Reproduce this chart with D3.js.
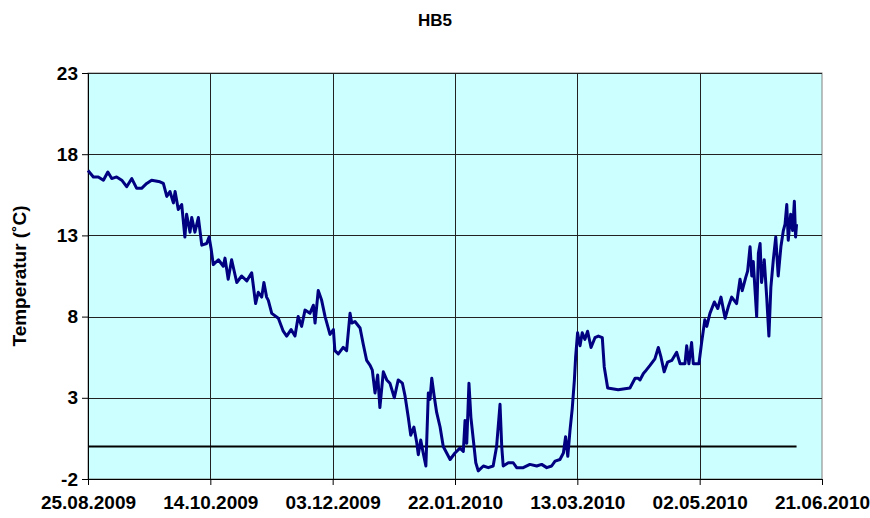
<!DOCTYPE html>
<html>
<head>
<meta charset="utf-8">
<script src="https://cdn.jsdelivr.net/npm/d3@7"></script>
<style>
  body { margin: 0; background: #fff; }
  svg text { font-family: "Liberation Sans", Arial, sans-serif; font-weight: bold; fill: #000; }
</style>
</head>
<body>
<div class="chart"></div>
<script>
// series HB5, days counted from 25.08.2009
var days = [0, 2.2, 4.2, 6.3, 8.1, 9.7, 11.7, 13.8, 15.8, 17.9, 19.9, 21.9, 24.0, 26.0, 29.4, 30.8,
  32.2, 33.5, 34.9, 35.6, 36.9, 38.3, 39.6, 40.3, 41.7, 42.4, 43.7, 45.1, 46.5, 48.5, 49.5, 50.3,
  51.2, 53.3, 55.3, 56.0, 57.3, 58.7, 60.8, 62.8, 64.9, 66.9, 68.5, 69.6, 71.0, 71.9, 73.0,
  73.7, 75.1, 77.8, 79.8, 81.2, 83.0, 84.6, 85.9, 87.3, 88.7, 90.7, 92.1, 92.8, 94.1, 95.5, 96.9,
  98.9, 100.3, 100.9, 102.3, 104.3, 105.7, 107.1, 107.8, 109.1, 111.2, 112.5, 113.9, 115.3, 116.2,
  117.3, 118.4, 119.3, 120.7, 122.1, 123.4, 125.2, 126.8, 128.5, 129.6, 130.9, 131.9, 133.2, 134.3,
  135.0, 136.0, 137.0, 138.1, 139.1, 139.8, 140.5, 141.5, 142.5, 143.9, 145.2, 146.6, 148.0,
  150.0, 152.0, 153.4, 154.1, 154.8, 155.7, 156.5, 157.5, 158.5, 159.5, 161.6, 163.6, 165.6,
  167.0, 168.4, 169.1, 169.7, 171.8, 173.8, 175.2, 177.9, 180.6, 183.4, 185.4, 187.5, 189.5,
  190.9, 192.9, 194.3, 195.2, 196.1, 197.0, 197.9, 198.8, 199.3, 200.1, 201.1, 202.0, 203.1,
  204.2, 205.6, 207.2, 208.6, 210.2, 211.0, 212.4, 216.7, 221.5,
  223.6, 224.9, 225.6, 227.0, 227.6, 229.7, 231.7, 233.1, 234.2, 235.5, 236.9, 238.6, 240.6,
  242.0, 244.0, 244.7, 245.6, 246.7, 247.4, 249.7, 250.8, 252.1, 252.9, 254.2, 256.0, 257.4,
  258.7, 260.4, 261.7, 263.1, 265.1, 266.5, 267.4, 268.8, 269.6, 270.6, 271.3, 271.9, 273.3,
  274.0, 274.7, 275.3, 276.4, 277.4, 278.3, 279.1, 280.1, 281.1, 282.1, 283.2, 284.2, 284.9,
  285.6, 286.2, 287.2, 288.0, 288.7, 289.2, 289.6];

var temps = [17.0, 16.6, 16.6, 16.4, 16.9, 16.5, 16.6, 16.4, 16.0, 16.5, 15.9, 15.9, 16.2, 16.4, 16.3, 16.2,
  15.4, 15.7, 15.0, 15.7, 14.6, 14.9, 12.9, 14.3, 13.2, 14.1, 13.2, 14.1, 12.4, 12.5, 12.9, 12.2,
  11.2, 11.5, 11.1, 11.6, 10.3, 11.5, 10.1, 10.5, 10.2, 10.7, 8.8, 9.5, 9.2, 10.1, 9.2,
  9.0, 8.2, 7.9, 7.1, 6.8, 7.2, 6.8, 8.0, 7.4, 8.4, 8.2, 8.7, 7.6, 9.6, 9.0, 8.0,
  6.9, 7.2, 5.9, 5.7, 6.1, 5.9, 8.2, 7.6, 7.7, 7.3, 6.3, 5.3, 5.0, 4.7,
  3.3, 4.4, 2.4, 4.6, 4.1, 3.9, 3.0, 4.1, 3.9, 3.1, 1.8, 0.7, 1.2, 0.3,
  -0.5, 0.4, -0.4, -1.2, 3.3, 2.9, 4.2, 3.1, 2.1, 1.2, 0.0, -0.4, -0.8,
  -0.4, -0.1, -0.3, 1.6, 0.2, 3.9, 1.8, 0.4, -1.0, -1.5, -1.2, -1.3, -1.2,
  0.0, 2.6, 0.0, -1.2, -1.0, -1.0, -1.3, -1.3, -1.1, -1.2, -1.1, -1.3, -1.2,
  -0.9, -0.8, -0.4, 0.6, -0.6, 1.0, 2.3, 4.1, 5.5, 7.0, 6.2, 7.0, 6.6,
  7.1, 6.1, 6.7, 6.8, 6.7, 4.9, 3.6, 3.5, 3.6,
  4.2, 4.2, 4.1, 4.5, 4.6, 5.0, 5.4, 6.1, 5.5, 4.6, 5.2, 5.3, 5.8,
  5.1, 5.1, 6.2, 5.1, 6.4, 5.1, 5.1, 6.4, 7.8, 7.4, 8.2, 8.9, 8.5,
  9.2, 7.9, 8.6, 9.2, 8.8, 10.3, 9.6, 10.4, 10.8, 12.3, 10.5, 11.4, 8.0,
  11.9, 12.5, 10.1, 11.5, 9.2, 6.8, 9.8, 11.5, 12.9, 10.5, 12.3, 13.3, 13.7,
  14.9, 12.7, 14.3, 13.3, 15.1, 12.9, 13.7];

// reference line at 0 °C
var refDays = [0, 289.6];
var refTemps = [0, 0];

var yTicks = [-2, 3, 8, 13, 18, 23];
var tickDays = [0, 50, 100, 150, 200, 250, 300];

var title = "HB5";
var yLabel = "Temperatur (˚C)";

var margin = {top: 73, right: 48, bottom: 39, left: 88},
    width = 870 - margin.left - margin.right,
    height = 518 - margin.top - margin.bottom;

var start = Date.UTC(2009, 7, 25);
var toDate = function(d) { return new Date(start + d * 864e5); };

var svg = d3.select(".chart")
    .append("svg")
    .attr("width", width + margin.left + margin.right)
    .attr("height", height + margin.top + margin.bottom);

var g = svg.append("g")
    .attr("transform", "translate(" + margin.left + "," + margin.top + ")");

var x = d3.scaleUtc()
    .domain([toDate(0), toDate(300)])
    .range([0, width]);

var y = d3.scaleLinear()
    .domain([-2, 23])
    .range([height, 0]);

// plot background
g.append("rect")
    .attr("width", width)
    .attr("height", height)
    .attr("fill", "#ccffff")
    .attr("stroke", "#808080");

// grid
g.selectAll(".hgrid")
    .data(yTicks.slice(1))
    .enter()
    .append("line")
    .attr("x1", 0)
    .attr("x2", width)
    .attr("y1", d => Math.round(y(d)) + 0.5)
    .attr("y2", d => Math.round(y(d)) + 0.5)
    .attr("stroke", "#222");

g.selectAll(".vgrid")
    .data(tickDays.slice(1, -1))
    .enter()
    .append("line")
    .attr("x1", d => Math.round(x(toDate(d))) + 0.5)
    .attr("x2", d => Math.round(x(toDate(d))) + 0.5)
    .attr("y1", 0)
    .attr("y2", height)
    .attr("stroke", "#222");

// axes (plain hyphen for negatives, like the original)
var yAxis = g.append("g")
    .call(d3.axisLeft(y)
        .tickValues(yTicks)
        .tickFormat(d => String(d))
        .tickSize(6).tickPadding(4).tickSizeOuter(0));
yAxis.select(".domain").attr("stroke", "#000");
yAxis.selectAll("text").style("font-size", "19px");

var xAxis = g.append("g")
    .attr("transform", "translate(0," + height + ")")
    .call(d3.axisBottom(x)
        .tickValues(tickDays.map(toDate))
        .tickFormat(d3.utcFormat("%d.%m.%Y"))
        .tickSize(6).tickPadding(11).tickSizeOuter(0));
xAxis.select(".domain").attr("stroke", "#000");
xAxis.selectAll("text").style("font-size", "19px");

// zero line
let refLine = d3.line()
    .x((d, i) => x(toDate(refDays[i])))
    .y(d => y(d));

g.append("path")
    .attr("d", refLine(refTemps))
    .attr("fill", "none")
    .attr("stroke", "#000")
    .attr("stroke-width", 2.2);

// temperature series
let tempLine = d3.line()
    .x((d, i) => x(toDate(days[i])))
    .y(d => y(d));

g.append("path")
    .attr("d", tempLine(temps))
    .attr("fill", "none")
    .attr("stroke", "#000080")
    .attr("stroke-width", 3)
    .attr("stroke-linejoin", "round");

// title and axis label
svg.append("text")
    .attr("x", 435)
    .attr("y", 26)
    .attr("text-anchor", "middle")
    .style("font-size", "17px")
    .text(title);

svg.append("text")
    .attr("transform", "translate(26," + (margin.top + height / 2) + ")rotate(-90)")
    .attr("text-anchor", "middle")
    .style("font-size", "19px")
    .text(yLabel);
</script>
</body>
</html>
